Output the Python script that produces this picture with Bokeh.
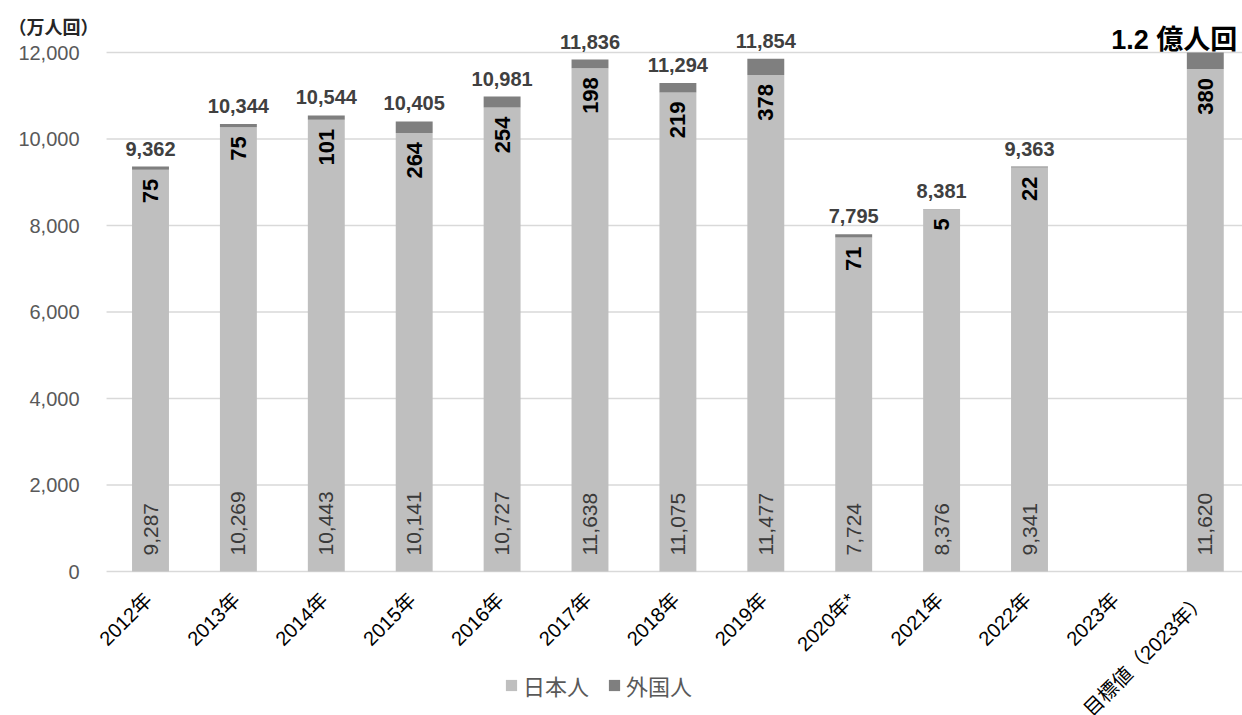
from math import pi
from bokeh.plotting import figure
from bokeh.models import ColumnDataSource, Legend, LegendItem, Range1d
from bokeh.embed import file_html
from bokeh.resources import INLINE
from bokeh.core.properties import value

# ---------------- data ----------------
categories = ["2012年", "2013年", "2014年", "2015年", "2016年", "2017年", "2018年",
              "2019年", "2020年*", "2021年", "2022年", "2023年", "目標値（2023年）"]
japanese = [9287, 10269, 10443, 10141, 10727, 11638, 11075, 11477, 7724, 8376, 9341, None, 11620]
foreign = [75, 75, 101, 264, 254, 198, 219, 378, 71, 5, 22, None, 380]
totals = [9362, 10344, 10544, 10405, 10981, 11836, 11294, 11854, 7795, 8381, 9363, None, None]
target_index = 12
target_total = 12000
target_label = "1.2 億人回"
series_names = ["日本人", "外国人"]
y_ticks = [0, 2000, 4000, 6000, 8000, 10000, 12000]
y_tick_labels = ["0", "2,000", "4,000", "6,000", "8,000", "10,000", "12,000"]
unit_label = "（万人回）"

# ---------------- layout / styles ----------------
W, H = 1242, 715
PX_X = 87.9          # pixels per category
PX_Y = 519 / 12000   # pixels per unit
LEFT_PX = 150        # first category centre from figure left
ZERO_PX = 144        # zero line above figure bottom
x0 = -LEFT_PX / PX_X
x1 = x0 + W / PX_X
y0 = -ZERO_PX / PX_Y
y1 = y0 + H / PX_Y

FONT = "Liberation Sans, Noto Sans CJK JP"
C_JP = "#bfbfbf"
C_FR = "#7f7f7f"
GRID = "#d9d9d9"

xs, jp, fr, jp_txt, fr_txt = [], [], [], [], []
for i, (j, f) in enumerate(zip(japanese, foreign)):
    if j is None:
        continue
    xs.append(i)
    jp.append(j)
    fr.append(f)
    jp_txt.append(f"{j:,}")
    fr_txt.append(f"{f:,}")
bars = ColumnDataSource(dict(x=xs, jp=jp, fr=fr, jp_txt=jp_txt, fr_txt=fr_txt))

tx, ty, tt = [], [], []
for i, t in enumerate(totals):
    if t is None:
        continue
    tx.append(i)
    ty.append(t)
    tt.append(f"{t:,}")
tot_src = ColumnDataSource(dict(x=tx, y=ty, t=tt))

p = figure(width=W, height=H, output_backend="svg", toolbar_location=None,
           x_range=Range1d(x0, x1), y_range=Range1d(y0, y1),
           min_border_left=0, min_border_right=0, min_border_top=0, min_border_bottom=0)
p.outline_line_color = None
p.background_fill_color = "white"
p.xaxis.visible = False
p.yaxis.visible = False
p.xgrid.grid_line_color = None
p.ygrid.grid_line_color = None

# horizontal grid lines (incl. zero line) starting at the plot's left edge
p.segment(x0=[-0.5] * len(y_ticks), x1=[x1] * len(y_ticks), y0=y_ticks, y1=y_ticks,
          line_color=GRID, line_width=1.5)

# y tick labels
p.text(x=[-0.5] * len(y_ticks), y=y_ticks, text=y_tick_labels, x_offset=-27,
       text_align="right", text_baseline="middle", text_font=value(FONT),
       text_font_size="20px", text_color="#595959")

# unit label
p.text(x=[-0.5], y=[y_ticks[-1]], text=[unit_label], x_offset=-98, y_offset=-25,
       text_align="left", text_baseline="alphabetic", text_font=value(FONT),
       text_font_size="18px", text_font_style="bold", text_color="#262626")

# bars
rs = p.vbar_stack(["jp", "fr"], x="x", width=0.42, color=[C_JP, C_FR], source=bars,
                  line_color=None)

# labels inside bars
p.text(x="x", y="jp", text="fr_txt", source=bars, angle=pi / 2, text_align="right",
       text_baseline="middle", y_offset=9, text_font=value(FONT), text_font_size="22px",
       text_font_style="bold", text_color="black")
p.text(x="x", y=0, text="jp_txt", source=bars, angle=pi / 2, text_align="left",
       text_baseline="middle", y_offset=-16, text_font=value(FONT), text_font_size="21px",
       text_color="#3a3a3a")
# totals
p.text(x="x", y="y", text="t", source=tot_src, text_align="center",
       text_baseline="alphabetic", y_offset=-18, text_font=value(FONT),
       text_font_size="20px", text_font_style="bold", text_color="#404040")
# target label
p.text(x=[target_index], y=[target_total], text=[target_label], text_align="right",
       text_baseline="alphabetic", x_offset=32, y_offset=-13, text_font=value(FONT),
       text_font_size="27px", text_font_style="bold", text_color="black")

# category labels (rotated 45 degrees)
p.text(x=list(range(len(categories))), y=[0] * len(categories), text=categories,
       angle=pi / 4, text_align="right", text_baseline="middle", x_offset=-2,
       y_offset=25, text_font=value(FONT), text_font_size="20px", text_color="black")

legend = Legend(items=[LegendItem(label=series_names[0], renderers=[rs[0]]),
                       LegendItem(label=series_names[1], renderers=[rs[1]])],
                location=(504, 14), orientation="horizontal", glyph_width=14,
                glyph_height=14, label_text_font=FONT, label_text_font_size="22px",
                label_text_color="#595959", padding=0, margin=0, spacing=18,
                label_standoff=5, border_line_color=None, background_fill_alpha=0,
                label_height=24)
p.add_layout(legend)

open("out.html", "w").write(file_html(p, INLINE))
